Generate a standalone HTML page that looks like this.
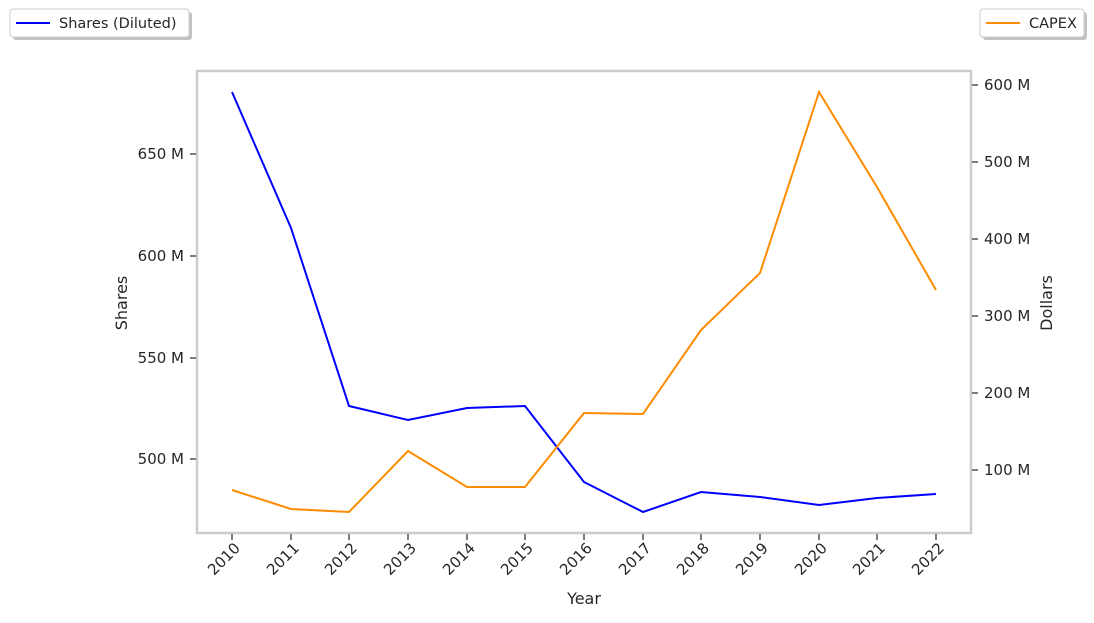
<!DOCTYPE html>
<html><head><meta charset="utf-8"><style>
body{margin:0;background:#fff;}
svg text{font-family:"DejaVu Sans","Liberation Sans",sans-serif;fill:#262626;}
</style></head><body>
<svg width="1094" height="618" xmlns="http://www.w3.org/2000/svg">
<rect x="0" y="0" width="1094" height="618" fill="#fff"/>
<rect x="13" y="12" width="179" height="28" rx="3" fill="#999" opacity="0.6"/>
<rect x="10" y="9" width="179" height="28" rx="3" fill="#fff" stroke="#ccc"/>
<line x1="16" y1="23" x2="50" y2="23" stroke="#0000ff" stroke-width="2"/>
<text x="59" y="28" font-size="14.5">Shares (Diluted)</text>
<rect x="983" y="12" width="104" height="28" rx="3" fill="#999" opacity="0.6"/>
<rect x="980" y="9" width="104" height="28" rx="3" fill="#fff" stroke="#ccc"/>
<line x1="986" y1="23" x2="1020" y2="23" stroke="#ff8c00" stroke-width="2"/>
<text x="1029" y="28" font-size="14.5">CAPEX</text>
<rect x="197" y="71" width="774" height="462" fill="#fff" stroke="#cccccc" stroke-width="2.5"/>
<g stroke="#262626" stroke-width="1.2">
<line x1="190" y1="154" x2="196" y2="154"/><line x1="190" y1="256" x2="196" y2="256"/>
<line x1="190" y1="358" x2="196" y2="358"/><line x1="190" y1="459" x2="196" y2="459"/>
<line x1="972" y1="85" x2="978" y2="85"/><line x1="972" y1="162" x2="978" y2="162"/>
<line x1="972" y1="239" x2="978" y2="239"/><line x1="972" y1="316" x2="978" y2="316"/>
<line x1="972" y1="393" x2="978" y2="393"/><line x1="972" y1="470" x2="978" y2="470"/>
</g>
<g font-size="15" text-anchor="end">
<text x="184" y="159">650 M</text><text x="184" y="261">600 M</text>
<text x="184" y="363">550 M</text><text x="184" y="464">500 M</text>
</g>
<g font-size="15">
<text x="984" y="90">600 M</text><text x="984" y="167">500 M</text>
<text x="984" y="244">400 M</text><text x="984" y="321">300 M</text>
<text x="984" y="398">200 M</text><text x="984" y="475">100 M</text>
</g>
<text font-size="16" transform="translate(127,303) rotate(-90)" text-anchor="middle">Shares</text>
<text font-size="16" transform="translate(1052,303) rotate(-90)" text-anchor="middle">Dollars</text>
<text font-size="16" x="584" y="604" text-anchor="middle">Year</text>
<g stroke="#262626" stroke-width="1.2">
<line x1="232" y1="534" x2="232" y2="540"/><line x1="291" y1="534" x2="291" y2="540"/>
<line x1="349" y1="534" x2="349" y2="540"/><line x1="408" y1="534" x2="408" y2="540"/>
<line x1="467" y1="534" x2="467" y2="540"/><line x1="525" y1="534" x2="525" y2="540"/>
<line x1="584" y1="534" x2="584" y2="540"/><line x1="643" y1="534" x2="643" y2="540"/>
<line x1="701" y1="534" x2="701" y2="540"/><line x1="760" y1="534" x2="760" y2="540"/>
<line x1="819" y1="534" x2="819" y2="540"/><line x1="877" y1="534" x2="877" y2="540"/>
<line x1="936" y1="534" x2="936" y2="540"/>
</g>
<g font-size="15" text-anchor="end">
<text transform="translate(241,549) rotate(-45)">2010</text>
<text transform="translate(300,549) rotate(-45)">2011</text>
<text transform="translate(358,549) rotate(-45)">2012</text>
<text transform="translate(417,549) rotate(-45)">2013</text>
<text transform="translate(476,549) rotate(-45)">2014</text>
<text transform="translate(534,549) rotate(-45)">2015</text>
<text transform="translate(593,549) rotate(-45)">2016</text>
<text transform="translate(652,549) rotate(-45)">2017</text>
<text transform="translate(710,549) rotate(-45)">2018</text>
<text transform="translate(769,549) rotate(-45)">2019</text>
<text transform="translate(828,549) rotate(-45)">2020</text>
<text transform="translate(886,549) rotate(-45)">2021</text>
<text transform="translate(945,549) rotate(-45)">2022</text>
</g>
<polyline fill="none" stroke="#0000ff" stroke-width="2" points="232,92 291,228 349,406 408,420 467,408 525,406 584,482 643,512 701,492 760,497 819,505 877,498 936,494"/>
<polyline fill="none" stroke="#ff8c00" stroke-width="2" points="232,490 291,509 349,512 408,451 467,487 525,487 584,413 643,414 701,330 760,273 819,92 877,187 936,290"/>
</svg>
</body></html>
